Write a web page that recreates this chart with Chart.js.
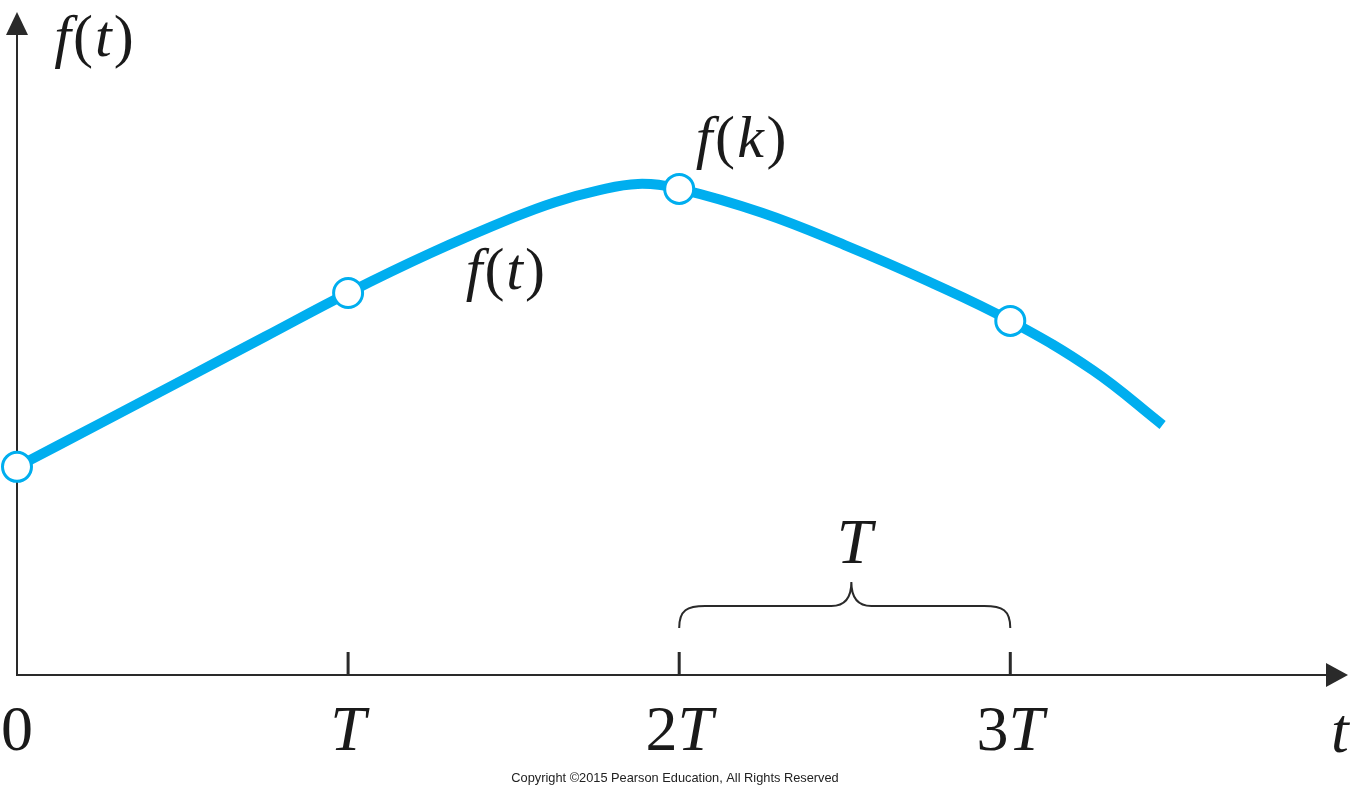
<!DOCTYPE html>
<html>
<head>
<meta charset="utf-8">
<script src="https://cdn.jsdelivr.net/npm/chart.js@4.4.1/dist/chart.umd.min.js"></script>
<style>
  body { margin: 0; background: #fff; }
  canvas { display: block; }
</style>
</head>
<body>
<canvas id="chart_sampling" width="1350" height="793"></canvas>
<script>
// curve f(t), t in units of T
var curveT = [0, 0.25, 0.5, 0.75, 1, 1.25, 1.5, 1.625, 1.75, 1.875, 2, 2.25, 2.5, 2.75, 3, 3.25, 3.46];
var curveF = [0.626, 0.756, 0.887, 1.018, 1.149, 1.269, 1.376, 1.422, 1.456, 1.477, 1.462, 1.390, 1.293, 1.185, 1.065, 0.916, 0.752];

// samples f(kT)
var sampleT = [0, 1, 2, 3];
var sampleF = [0.626, 1.149, 1.462, 1.065];

// axis ticks and labels
var tickT = [1, 2, 3];
var labelT = [0, 1, 2, 3];
var labelText = ['0', 'T', '2T', '3T'];

var axisColor = '#2a2a2a';
var curveColor = '#00aeef';
var serif = '"Liberation Serif", "DejaVu Serif", serif';

// letters italic, digits and parens upright
function drawMath(ctx, text, cx, base, size, gap) {
    gap = gap || 0;
    var parts = [];
    var total = 0;
    for (var i = 0; i < text.length; i++) {
        var ch = text[i];
        var ital = /[a-zA-Z]/.test(ch);
        ctx.font = (ital ? 'italic ' : '') + size + 'px ' + serif;
        var w = ctx.measureText(ch).width;
        parts.push({ch: ch, ital: ital, w: w});
        total += w + (i > 0 ? gap : 0);
    }
    var x = cx - total / 2;
    ctx.textAlign = 'left';
    ctx.textBaseline = 'alphabetic';
    parts.forEach(function (p) {
        ctx.font = (p.ital ? 'italic ' : '') + size + 'px ' + serif;
        ctx.fillText(p.ch, x, base);
        x += p.w + gap;
    });
}

var axesPlugin = {
    id: 'axesPlugin',
    beforeDatasetsDraw: function (chart) {
        var ctx = chart.ctx;
        var xs = chart.scales.x, ys = chart.scales.y;
        var area = chart.chartArea;
        var x0 = xs.getPixelForValue(0);
        var y0 = ys.getPixelForValue(0);
        ctx.save();
        ctx.strokeStyle = axisColor;
        ctx.fillStyle = axisColor;
        ctx.lineWidth = 2;

        // y axis + arrow
        ctx.beginPath();
        ctx.moveTo(x0, y0 + 1);
        ctx.lineTo(x0, area.top + 20);
        ctx.stroke();
        ctx.beginPath();
        ctx.moveTo(x0, area.top + 2);
        ctx.lineTo(x0 - 11, area.top + 25);
        ctx.lineTo(x0 + 11, area.top + 25);
        ctx.closePath();
        ctx.fill();

        // x axis + arrow
        ctx.beginPath();
        ctx.moveTo(x0 - 1, y0);
        ctx.lineTo(area.right - 20, y0);
        ctx.stroke();
        ctx.beginPath();
        ctx.moveTo(area.right, y0);
        ctx.lineTo(area.right - 22, y0 - 12);
        ctx.lineTo(area.right - 22, y0 + 12);
        ctx.closePath();
        ctx.fill();

        // ticks
        ctx.lineWidth = 3;
        tickT.forEach(function (t) {
            var px = xs.getPixelForValue(t);
            ctx.beginPath();
            ctx.moveTo(px, y0);
            ctx.lineTo(px, y0 - 23);
            ctx.stroke();
        });

        // brace over 2T..3T
        var b1 = xs.getPixelForValue(2), b2 = xs.getPixelForValue(3);
        var tip = xs.getPixelForValue(2.52);
        var yEnd = y0 - 47, yMid = y0 - 69, yTip = y0 - 93;
        ctx.lineWidth = 2;
        ctx.beginPath();
        ctx.moveTo(b1, yEnd);
        ctx.bezierCurveTo(b1, yMid + 4, b1 + 8, yMid, b1 + 26, yMid);
        ctx.lineTo(tip - 20, yMid);
        ctx.bezierCurveTo(tip - 6, yMid, tip, yMid - 8, tip, yTip);
        ctx.bezierCurveTo(tip, yMid - 8, tip + 6, yMid, tip + 20, yMid);
        ctx.lineTo(b2 - 26, yMid);
        ctx.bezierCurveTo(b2 - 8, yMid, b2, yMid + 4, b2, yEnd);
        ctx.stroke();
        ctx.restore();
    },
    afterDatasetsDraw: function (chart) {
        var ctx = chart.ctx;
        var xs = chart.scales.x, ys = chart.scales.y;
        var area = chart.chartArea;
        var y0 = ys.getPixelForValue(0);
        ctx.save();
        ctx.fillStyle = '#1a1a1a';

        labelT.forEach(function (t, i) {
            drawMath(ctx, labelText[i], xs.getPixelForValue(t), y0 + 75, 64);
        });
        drawMath(ctx, 't', area.right - 8, y0 + 77, 64);

        drawMath(ctx, 'f(t)', xs.getPixelForValue(0) + 77, area.top + 46, 60, 2);
        drawMath(ctx, 'f(t)', xs.getPixelForValue(1.475), ys.getPixelForValue(1.16), 60, 2);
        drawMath(ctx, 'f(k)', xs.getPixelForValue(2.187), ys.getPixelForValue(1.557), 60, 2.5);
        drawMath(ctx, 'T', xs.getPixelForValue(2.53), y0 - 112, 64);

        ctx.font = '12.8px "Liberation Sans", Arial, sans-serif';
        ctx.textAlign = 'center';
        ctx.textBaseline = 'middle';
        ctx.fillStyle = '#222';
        ctx.fillText('Copyright \u00a92015 Pearson Education, All Rights Reserved', 675, 778);
        ctx.restore();
    }
};

var curveData = curveT.map(function (t, i) { return {x: t, y: curveF[i]}; });
var sampleData = sampleT.map(function (t, i) { return {x: t, y: sampleF[i]}; });

var ctx = document.getElementById('chart_sampling');
new Chart(ctx, {
    type: 'line',
    data: {
        datasets: [{
            data: sampleData,
            showLine: false,
            pointRadius: 14.5,
            pointBorderWidth: 3,
            pointBackgroundColor: '#ffffff',
            pointBorderColor: curveColor,
            clip: false,
            order: 0
        }, {
            data: curveData,
            borderColor: curveColor,
            borderWidth: 10,
            borderCapStyle: 'butt',
            tension: 0.4,
            pointRadius: 0,
            fill: false,
            clip: false,
            order: 1
        }]
    },
    plugins: [axesPlugin],
    options: {
        responsive: false,
        animation: false,
        layout: {
            autoPadding: false,
            padding: {left: 17, right: 2, top: 10, bottom: 118}
        },
        plugins: {
            legend: {display: false},
            tooltip: {enabled: false}
        },
        scales: {
            x: {type: 'linear', min: 0, max: 4.02, display: false},
            y: {type: 'linear', min: 0, max: 2, display: false}
        }
    }
});
</script>
</body>
</html>
